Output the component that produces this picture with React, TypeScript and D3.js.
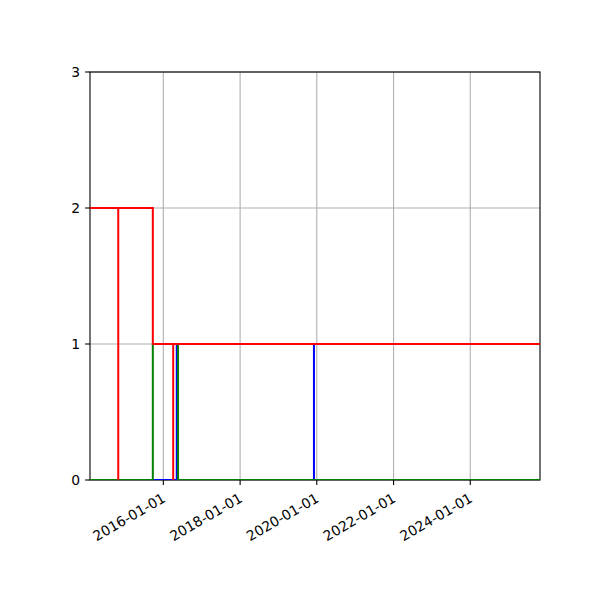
import * as d3 from "d3";
import React from "react";

// axis limits and ticks
const xLimits = ["2014-02-02", "2025-10-26"];
const xTickLabels = ["2016-01-01", "2018-01-01", "2020-01-01", "2022-01-01", "2024-01-01"];
const yLimits = [0, 3];
const yTicks = [0, 1, 2, 3];

// step series, drawn in this order (blue, green, red)
const blueDates = ["2015-09-23", "2016-05-08", "2019-12-05", "2025-10-26"];
const blueValues = [0, 1, 0, 0];
const greenDates = ["2014-02-02", "2015-09-23", "2016-05-20", "2025-10-26"];
const greenValues = [0, 1, 0, 0];
const redDates = ["2014-02-02", "2015-09-23", "2025-10-26"];
const redValues = [2, 1, 1];

// extra red event lines (from 0 up to value)
const redEventDates = ["2014-10-29", "2016-04-04"];
const redEventValues = [2, 1];

const width = 600;
const height = 600;
const marginLeft = 90;
const marginRight = 60;
const marginTop = 72;
const marginBottom = 120;

const parse = d3.utcParse("%Y-%m-%d");

export default function App() {
  const x = d3
    .scaleUtc()
    .domain(xLimits.map((d) => parse(d) as Date))
    .range([marginLeft, width - marginRight]);
  const y = d3
    .scaleLinear()
    .domain(yLimits)
    .range([height - marginBottom, marginTop]);

  const line = d3
    .line<[Date, number]>()
    .x((d) => x(d[0]))
    .y((d) => y(d[1]))
    .curve(d3.curveStepAfter);

  const series = [
    { dates: blueDates, values: blueValues, color: "#0000ff" },
    { dates: greenDates, values: greenValues, color: "#008000" },
    { dates: redDates, values: redValues, color: "#ff0000" },
  ];

  const font = "DejaVu Sans, sans-serif";
  const x0 = marginLeft;
  const x1 = width - marginRight;
  const y0 = height - marginBottom;
  const y1 = marginTop;

  return (
    <svg
      width={width}
      height={height}
      style={{ position: "absolute", left: 0, top: 0, background: "#fff" }}
    >
      <rect x={0} y={0} width={width} height={height} fill="#fff" />
      <defs>
        <clipPath id="plot-area">
          <rect x={x0} y={y1} width={x1 - x0} height={y0 - y1} />
        </clipPath>
      </defs>

      {/* grid */}
      <g stroke="#b0b0b0" strokeWidth={1.1}>
        {xTickLabels.map((t) => (
          <line key={t} x1={x(parse(t) as Date)} x2={x(parse(t) as Date)} y1={y0} y2={y1} />
        ))}
        {yTicks.map((t) => (
          <line key={t} x1={x0} x2={x1} y1={y(t)} y2={y(t)} />
        ))}
      </g>

      {/* spines */}
      <rect x={x0} y={y1} width={x1 - x0} height={y0 - y1} fill="none" stroke="#000" strokeWidth={1.1} />

      {/* data */}
      <g clipPath="url(#plot-area)" fill="none" strokeWidth={2}>
        {series.map((s, i) => (
          <path
            key={i}
            d={line(s.dates.map((d, j) => [parse(d) as Date, s.values[j]])) ?? ""}
            stroke={s.color}
          />
        ))}
        {redEventDates.map((d, i) => (
          <line
            key={d}
            x1={x(parse(d) as Date)}
            x2={x(parse(d) as Date)}
            y1={y(0)}
            y2={y(redEventValues[i])}
            stroke="#ff0000"
          />
        ))}
      </g>

      {/* y axis */}
      <g fontFamily={font} fontSize={13.9}>
        {yTicks.map((t) => (
          <g key={t}>
            <line x1={x0 - 4.9} x2={x0} y1={y(t)} y2={y(t)} stroke="#000" strokeWidth={1.1} />
            <text x={x0 - 9.8} y={y(t)} textAnchor="end" dominantBaseline="central">
              {t}
            </text>
          </g>
        ))}
      </g>

      {/* x axis */}
      <g fontFamily={font} fontSize={13.9}>
        {xTickLabels.map((t) => {
          const px = x(parse(t) as Date);
          return (
            <g key={t}>
              <line x1={px} x2={px} y1={y0} y2={y0 + 4.9} stroke="#000" strokeWidth={1.1} />
              <text
                transform={`translate(${px - 2},${y0 + 12}) rotate(-30)`}
                textAnchor="end"
                dominantBaseline="hanging"
              >
                {t}
              </text>
            </g>
          );
        })}
      </g>
    </svg>
  );
}
